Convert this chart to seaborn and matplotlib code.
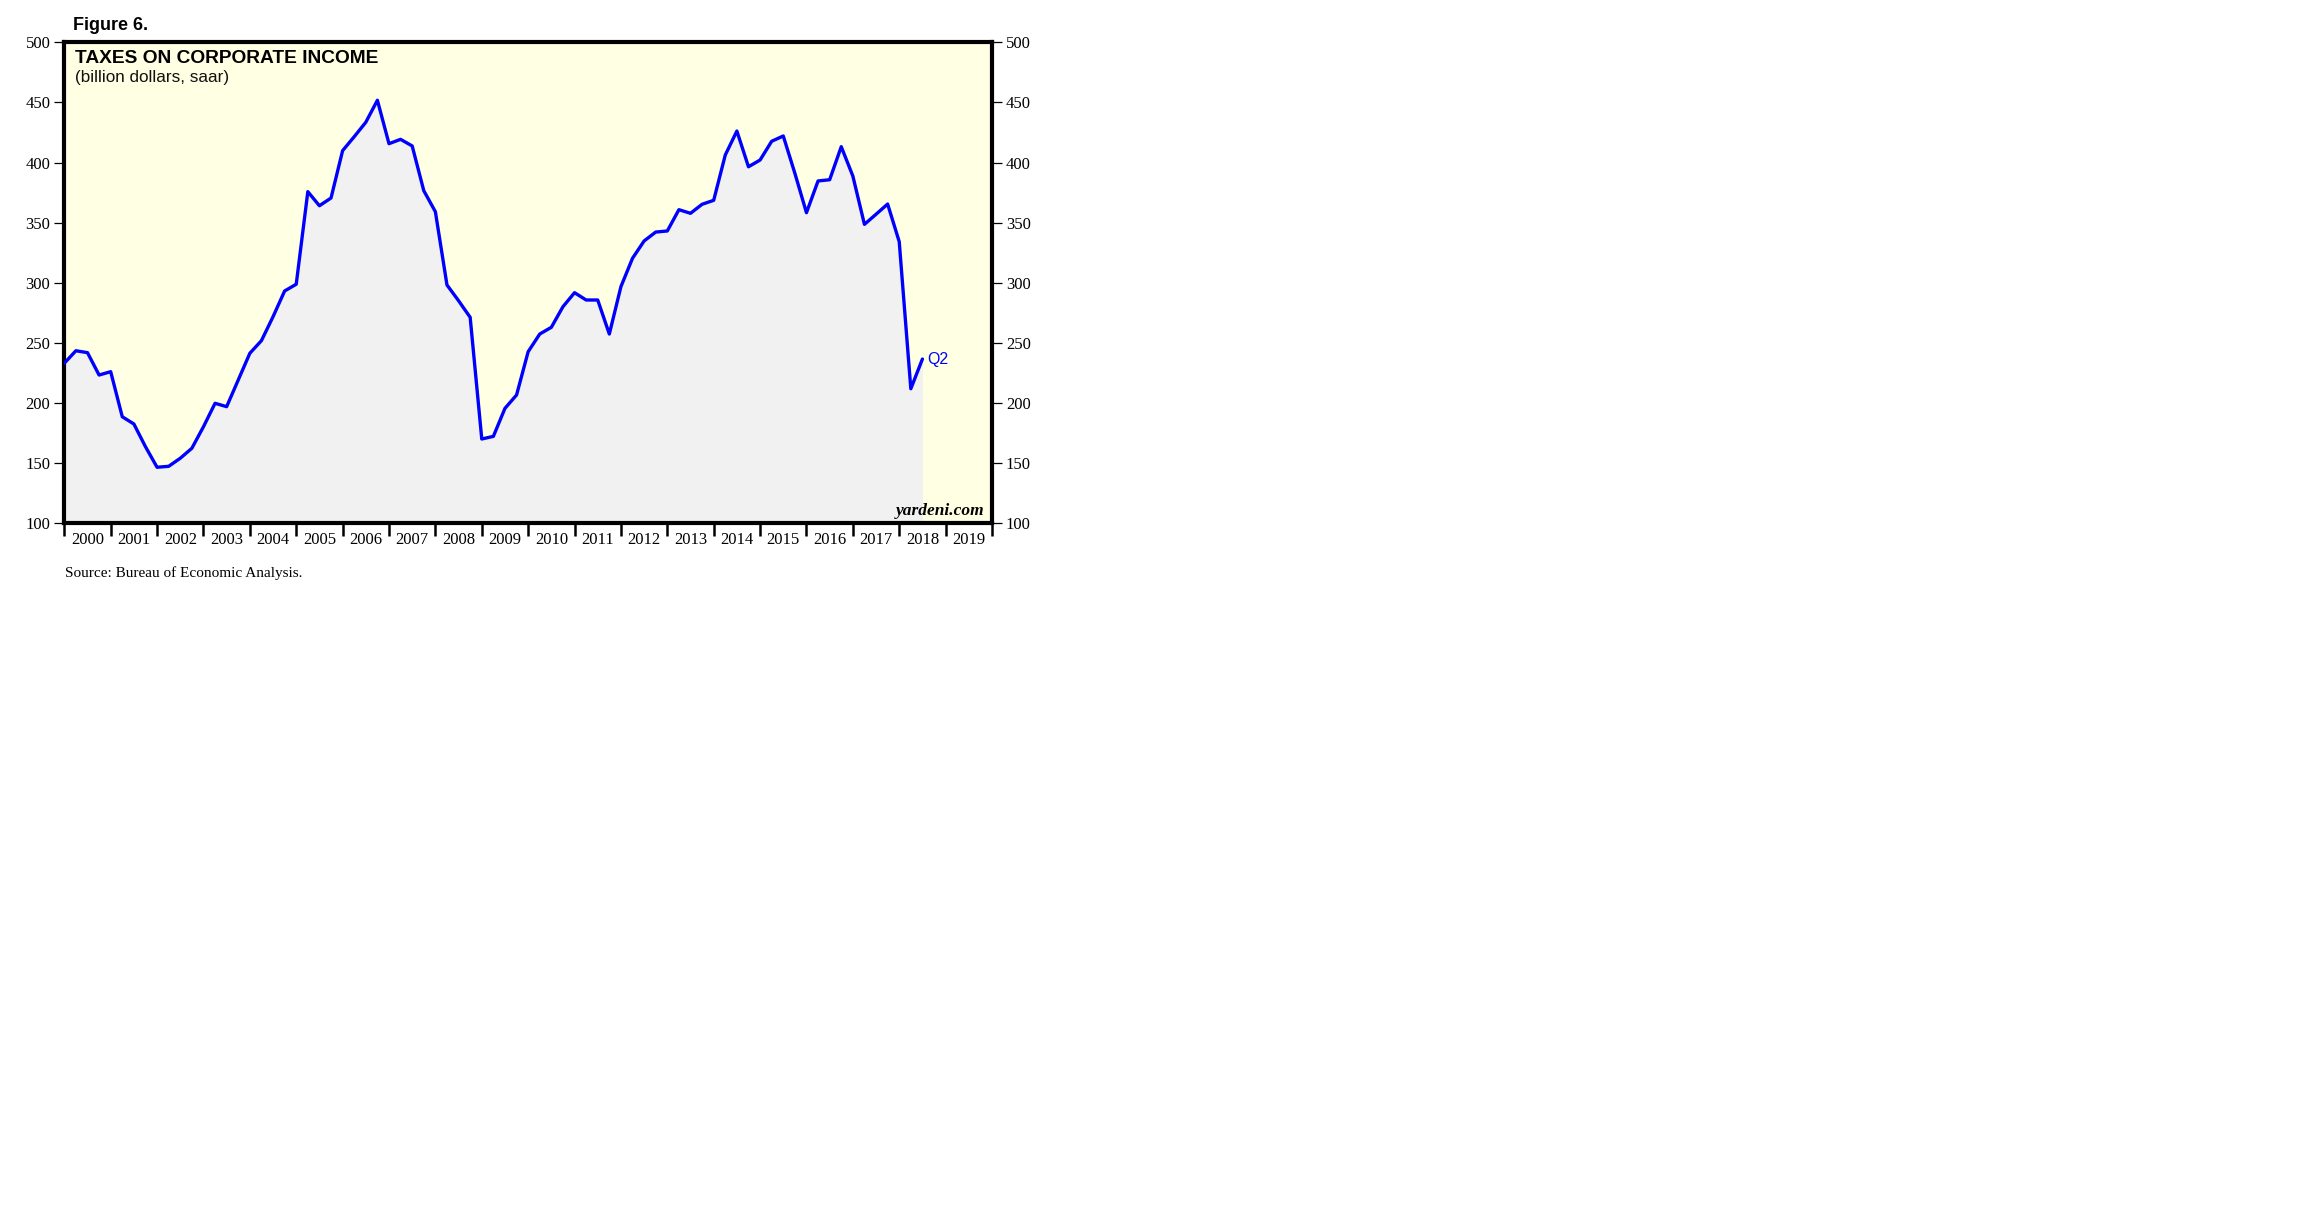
import numpy as np
import pandas as pd
import matplotlib
matplotlib.use("Agg")
import matplotlib.pyplot as plt
import seaborn as sns

# ---- data: quarterly, 1999Q4 .. 2018Q2 (plotted at quarter end) ----
start_year = 1999
start_quarter = 4
taxes = [233.1, 243.5, 241.9, 223.3, 226.1, 188.6, 182.6, 163.7, 146.6, 147.4,
         154.1, 162.4, 180.3, 199.8, 197.0, 219.2, 241.4, 251.9, 271.8, 293.2,
         298.8, 375.8, 364.1, 370.5, 409.9, 421.5, 433.5, 451.8, 415.7, 419.3,
         413.8, 376.6, 359.1, 298.2, 285.1, 271.3, 170.1, 172.3, 195.6, 206.7,
         242.7, 257.4, 263.0, 280.1, 291.8, 285.7, 285.7, 257.4, 296.8, 320.4,
         334.8, 342.2, 343.1, 360.8, 357.8, 365.3, 368.6, 406.3, 426.2, 396.5,
         402.1, 417.7, 422.1, 391.1, 358.3, 384.7, 385.7, 413.2, 388.8, 348.6,
         357.0, 365.5, 334.2, 211.9, 236.6]
year_labels = [str(y) for y in range(2000, 2020)]
y_ticks = [100, 150, 200, 250, 300, 350, 400, 450, 500]

n = len(taxes)
qidx = np.arange(n) + (start_quarter - 1)
dates = start_year + (qidx // 4) + ((qidx % 4) + 1) / 4.0
df = pd.DataFrame({"date": dates, "taxes": taxes})

sns.set_style("white")
plt.rcParams["font.family"] = ["Liberation Serif", "DejaVu Serif"]

fig = plt.figure(figsize=(23.04, 12.28), dpi=100)
ax = fig.add_axes([64.3 / 2304, 1 - 523.3 / 1228, (992 - 64.3) / 2304, (523.3 - 42.3) / 1228])
ax.set_facecolor("#FFFFE3")

ax.fill_between(df["date"], df["taxes"], 100, color="#F1F1F1", linewidth=0, zorder=1)
sns.lineplot(data=df, x="date", y="taxes", ax=ax, color="#0000FF", linewidth=2.4, zorder=3)

ax.set_xlim(2000, 2020)
ax.set_ylim(100, 500)
ax.set_xlabel("")
ax.set_ylabel("")

for s in ax.spines.values():
    s.set_visible(True)
    s.set_color("black")
    s.set_linewidth(3)

ax.set_yticks(y_ticks)
ax.set_yticklabels([str(v) for v in y_ticks])
ax.tick_params(axis="y", which="major", left=True, right=True, labelleft=True, labelright=True,
               direction="out", length=7.5, width=0.9, pad=2.5, labelsize=12, colors="black")

years = np.arange(2000, 2021)
ax.set_xticks(years)
ax.set_xticklabels([""] * len(years))
ax.set_xticks(np.arange(2000, 2020) + 0.5, minor=True)
ax.set_xticklabels(year_labels, minor=True)
ax.tick_params(axis="x", which="major", bottom=True, direction="out", length=9, width=1.8, colors="black")
ax.tick_params(axis="x", which="minor", bottom=True, length=0, pad=6, labelsize=12, labelcolor="black")

sans = ["Liberation Sans", "DejaVu Sans"]
ax.text(0.012, 0.985, "TAXES ON CORPORATE INCOME", transform=ax.transAxes, ha="left", va="top",
        fontsize=13.8, fontweight="bold", family=sans, color="black")
ax.text(0.012, 0.942, "(billion dollars, saar)", transform=ax.transAxes, ha="left", va="top",
        fontsize=12.3, family=sans, color="#111111")
ax.text(df["date"].iloc[-1] + 0.1, df["taxes"].iloc[-1], "Q2", ha="left", va="center",
        fontsize=11.5, family=sans, color="#0000FF")
ax.text(0.992, 0.008, "yardeni.com", transform=ax.transAxes, ha="right", va="bottom",
        fontsize=12.5, style="italic", fontweight="bold", color="black")

fig.text(73 / 2304, 1 - 30 / 1228, "Figure 6.", ha="left", va="baseline", fontsize=13,
         fontweight="bold", family=sans, color="black")
fig.text(65 / 2304, 1 - 577 / 1228, "Source: Bureau of Economic Analysis.", ha="left", va="baseline",
         fontsize=11, color="black")

fig.savefig("out.png", dpi=100)
